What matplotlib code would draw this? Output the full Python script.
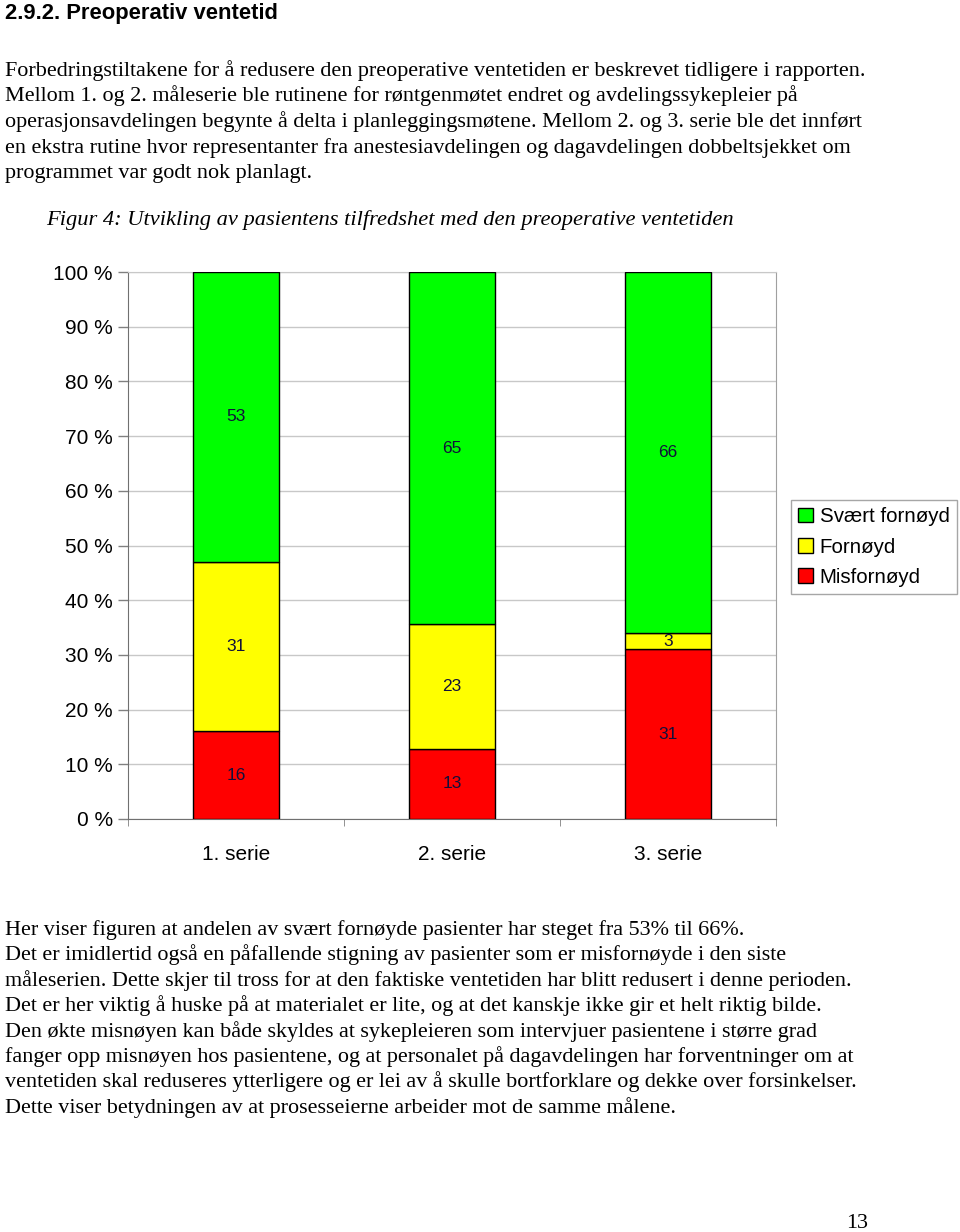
import matplotlib.pyplot as plt
from matplotlib.patches import Patch

W, H = 960, 1232

categories = ["1. serie", "2. serie", "3. serie"]
misfornoyd = [16, 13, 31]
fornoyd = [31, 23, 3]
svaert_fornoyd = [53, 65, 66]
series_names = ["Misfornøyd", "Fornøyd", "Svært fornøyd"]
series_colors = ["#ff0000", "#ffff00", "#00ff00"]
yticks = [0, 10, 20, 30, 40, 50, 60, 70, 80, 90, 100]
ytick_labels = ["%d %%" % t for t in yticks]

heading = "2.9.2. Preoperativ ventetid"
intro = [
    "Forbedringstiltakene for å redusere den preoperative ventetiden er beskrevet tidligere i rapporten.",
    "Mellom 1. og 2. måleserie ble rutinene for røntgenmøtet endret og avdelingssykepleier på",
    "operasjonsavdelingen begynte å delta i planleggingsmøtene. Mellom 2. og 3. serie ble det innført",
    "en ekstra rutine hvor representanter fra anestesiavdelingen og dagavdelingen dobbeltsjekket om",
    "programmet var godt nok planlagt.",
]
caption = "Figur 4: Utvikling av pasientens tilfredshet med den preoperative ventetiden"
outro = [
    "Her viser figuren at andelen av svært fornøyde pasienter har steget fra 53% til 66%.",
    "Det er imidlertid også en påfallende stigning av pasienter som er misfornøyde i den siste",
    "måleserien. Dette skjer til tross for at den faktiske ventetiden har blitt redusert i denne perioden.",
    "Det er her viktig å huske på at materialet er lite, og at det kanskje ikke gir et helt riktig bilde.",
    "Den økte misnøyen kan både skyldes at sykepleieren som intervjuer pasientene i større grad",
    "fanger opp misnøyen hos pasientene, og at personalet på dagavdelingen har forventninger om at",
    "ventetiden skal reduseres ytterligere og er lei av å skulle bortforklare og dekke over forsinkelser.",
    "Dette viser betydningen av at prosesseierne arbeider mot de samme målene.",
]
page_number = "13"


def fx(px):
    return px / W


def fy(px):
    return 1 - px / H


fig = plt.figure(figsize=(W / 100, H / 100), dpi=100)
fig.patch.set_facecolor("white")

serif = "Liberation Serif"
sans = "Liberation Sans"

# page text
fig.text(fx(5), fy(19), heading, fontsize=15.8, fontweight="bold", family=sans, va="baseline")
for i, line in enumerate(intro):
    fig.text(fx(5), fy(76 + 25.5 * i), line, fontsize=15.9, family=serif, va="baseline")
fig.text(fx(46), fy(225), caption, fontsize=16.2, family=serif, style="italic", va="baseline")
for i, line in enumerate(outro):
    fig.text(fx(5), fy(935 + 25.4 * i), line, fontsize=15.9, family=serif, va="baseline")
fig.text(fx(868), fy(1228), page_number, fontsize=15.9, family=serif, ha="right", va="baseline")

# chart
ax = fig.add_axes([fx(128), fy(819), (776 - 128) / W, (819 - 272) / H])
x = list(range(len(categories)))
stack = [misfornoyd, fornoyd, svaert_fornoyd]
totals = [sum(v) for v in zip(*stack)]
bottoms = [0.0] * len(categories)
for vals, name, col in zip(stack, series_names, series_colors):
    pct = [100.0 * v / t for v, t in zip(vals, totals)]
    ax.bar(x, pct, 0.4, bottom=bottoms, color=col, edgecolor="black", linewidth=1, label=name, zorder=3)
    for xi, p, b, v in zip(x, pct, bottoms, vals):
        ax.text(xi, b + p / 2, str(v), ha="center", va="center", fontsize=12.5,
                family=sans, color="#10103a", zorder=4)
    bottoms = [b + p for b, p in zip(bottoms, pct)]

ax.set_xlim(-0.5, len(categories) - 0.5)
ax.set_ylim(0, 100)
ax.set_yticks(yticks)
ax.set_yticklabels(ytick_labels, fontsize=15, family=sans)
ax.set_xticks(x)
ax.set_xticklabels(categories, fontsize=15, family=sans)
ax.tick_params(axis="x", length=0, pad=19)
ax.tick_params(axis="y", length=7, width=1, color="#808080", pad=4)
ax.set_xticks([-0.5, 0.5, 1.5, 2.5], minor=True)
ax.tick_params(axis="x", which="minor", length=5, color="#808080")
ax.yaxis.grid(True, color="#c8c8c8", linewidth=1, zorder=0)
ax.set_axisbelow(True)
for side in ["left", "bottom"]:
    ax.spines[side].set_color("#707070")
ax.spines["right"].set_color("#a0a0a0")
ax.spines["top"].set_color("#c8c8c8")

handles = [Patch(facecolor=c, edgecolor="black", label=n)
           for n, c in zip(series_names[::-1], series_colors[::-1])]
leg = fig.legend(handles=handles, loc="upper left", bbox_to_anchor=(fx(791), fy(500)),
                 frameon=True, fancybox=False, edgecolor="#909090",
                 prop={"family": sans, "size": 14.8},
                 handlelength=0.7, handleheight=0.7, handletextpad=0.35,
                 labelspacing=0.55, borderpad=0.35, borderaxespad=0)
leg.get_frame().set_linewidth(1)

fig.savefig("out.png", dpi=100)
